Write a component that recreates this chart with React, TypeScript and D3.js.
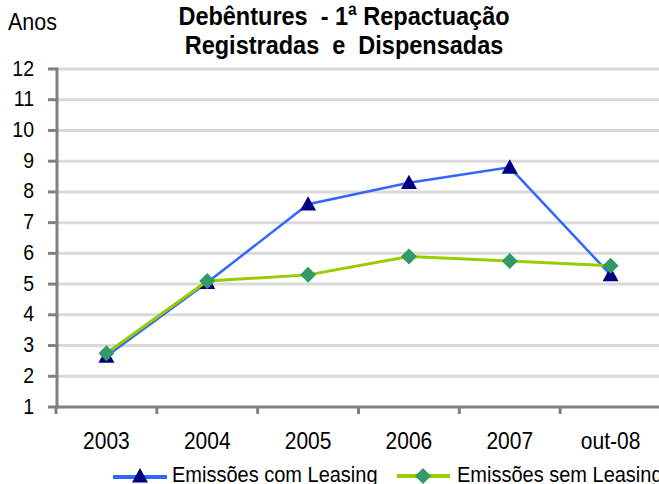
import React from "react";
import * as d3 from "d3";

const categories = ["2003", "2004", "2005", "2006", "2007", "out-08"];
const comLeasing = [2.65, 5.05, 7.6, 8.3, 8.8, 5.3];
const semLeasing = [2.75, 5.1, 5.3, 5.9, 5.75, 5.6];
const yTicks = [1, 2, 3, 4, 5, 6, 7, 8, 9, 10, 11, 12];
const seriesNames = ["Emissões com Leasing", "Emissões sem Leasing"];
const titleLines = ["Debêntures  - 1ª Repactuação", "Registradas  e  Dispensadas"];
const yAxisTitle = "Anos";

const W = 659;
const H = 484;
const FONT = "'Liberation Sans', Arial, sans-serif";
const BLUE = "#3366FF";
const NAVY = "#000080";
const LIME = "#99CC00";
const SEA = "#339966";
const STRETCH = 1.13;

function triPath(cx: number, cy: number, s = 8) {
  return `M${cx},${cy - s}L${cx + s},${cy + s * 0.8}L${cx - s},${cy + s * 0.8}Z`;
}
function diaPath(cx: number, cy: number, s = 8) {
  return `M${cx},${cy - s}L${cx + s},${cy}L${cx},${cy + s}L${cx - s},${cy}Z`;
}

function T(props: any) {
  const { x, y, k = STRETCH, children, ...rest } = props;
  return (
    <text transform={`translate(${x},${y}) scale(1,${k})`} fill="#000" {...rest}>
      {children}
    </text>
  );
}

export default function App() {
  const x = d3.scaleBand<string>().domain(categories).range([56, 661]);
  const y = d3.scaleLinear().domain([1, 12]).range([407, 69]);
  const cx = (c: string) => (x(c) as number) + x.bandwidth() / 2;

  const line = d3
    .line<number>()
    .x((_, i) => cx(categories[i]))
    .y((d) => y(d));

  const boundaries = categories.map((c) => x(c) as number).concat([x.range()[1]]);

  return (
    <svg
      width={W}
      height={H}
      style={{ position: "absolute", left: 0, top: 0, background: "#fff" }}
      fontFamily={FONT}
    >
      {/* grid */}
      {yTicks.filter((t) => t > 1).map((t) => (
        <line key={t} x1={57} x2={W} y1={y(t)} y2={y(t)} stroke="#D9D9D9" strokeWidth={3} />
      ))}
      {/* y axis */}
      <line x1={57} x2={57} y1={y(12) - 1.5} y2={y(1) + 1.5} stroke="#808080" strokeWidth={3} />
      {yTicks.map((t) => (
        <g key={t}>
          <line x1={48} x2={57} y1={y(t)} y2={y(t)} stroke="#808080" strokeWidth={3} />
          <T x={34} y={y(t) + 6.5} textAnchor="end" fontSize={19.5}>
            {t}
          </T>
        </g>
      ))}
      {/* x axis */}
      <line x1={56} x2={W} y1={y(1)} y2={y(1)} stroke="#808080" strokeWidth={3} />
      {boundaries.map((b, i) => (
        <line key={i} x1={b} x2={b} y1={y(1)} y2={y(1) + 7} stroke="#808080" strokeWidth={3} />
      ))}
      {categories.map((c) => (
        <T key={c} x={cx(c)} y={449} textAnchor="middle" fontSize={21}>
          {c}
        </T>
      ))}

      {/* series */}
      <path d={line(comLeasing) || ""} fill="none" stroke={BLUE} strokeWidth={2.5} />
      {comLeasing.map((v, i) => (
        <path key={i} d={triPath(cx(categories[i]), y(v))} fill={NAVY} />
      ))}
      <path d={line(semLeasing) || ""} fill="none" stroke={LIME} strokeWidth={3} />
      {semLeasing.map((v, i) => (
        <path key={i} d={diaPath(cx(categories[i]), y(v))} fill={SEA} />
      ))}

      {/* titles */}
      <T x={8} y={30} fontSize={21.5}>{yAxisTitle}</T>
      {titleLines.map((t, i) => (
        <T
          key={i}
          x={344}
          y={25 + i * 29}
          textAnchor="middle"
          fontSize={23.5}
          fontWeight="bold"
          style={{ whiteSpace: "pre" }}
        >
          {t}
        </T>
      ))}

      {/* legend */}
      <line x1={113} x2={167} y1={477} y2={477} stroke={BLUE} strokeWidth={4} />
      <path d={triPath(140, 476)} fill={NAVY} />
      <T x={172} y={482} fontSize={20}>{seriesNames[0]}</T>
      <line x1={397} x2={450} y1={476} y2={476} stroke={LIME} strokeWidth={4} />
      <path d={diaPath(423, 476)} fill={SEA} />
      <T x={457} y={482} fontSize={20}>{seriesNames[1]}</T>
    </svg>
  );
}
